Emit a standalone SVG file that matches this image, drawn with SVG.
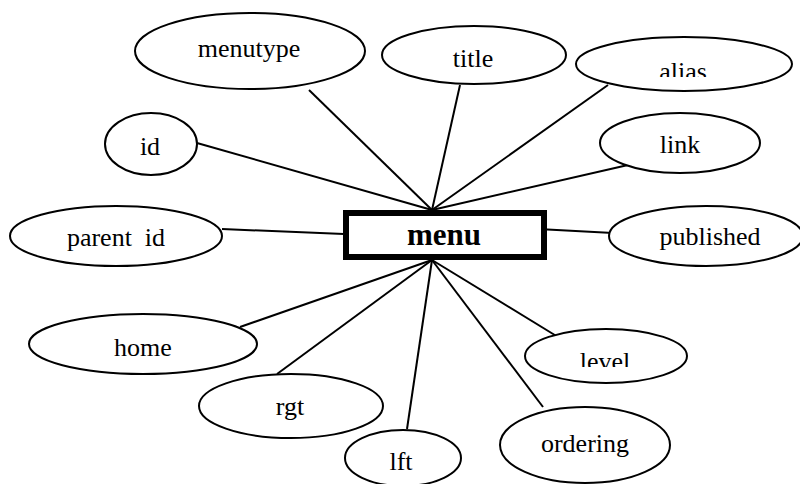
<svg xmlns="http://www.w3.org/2000/svg" width="800" height="484" viewBox="0 0 800 484">
  <style>
    .attr { fill: #fff; stroke: #000; stroke-width: 2; }
    .lbl { font-family: "Liberation Serif", "Times New Roman", serif; font-size: 26px; fill: #000; text-anchor: middle; }
    .ent { fill: #fff; stroke: #000; stroke-width: 6; }
    .entlbl { font-family: "Liberation Serif", "Times New Roman", serif; font-size: 31px; font-weight: bold; fill: #000; text-anchor: middle; }
    .conn line { stroke: #000; stroke-width: 2; }
  </style>
  <defs>
    <clipPath id="clip-alias"><rect x="600" y="40" width="170" height="37"/></clipPath>
    <clipPath id="clip-level"><rect x="540" y="330" width="130" height="37"/></clipPath>
  </defs>
  <rect width="800" height="484" fill="#fff"/>

  <!-- connectors -->
  <g id="connectors" class="conn">
    <line x1="309" y1="90" x2="432" y2="210"/>
    <line x1="197" y1="143" x2="432" y2="210"/>
    <line x1="222" y1="229" x2="344" y2="234"/>
    <line x1="460" y1="85" x2="432" y2="210"/>
    <line x1="608" y1="85" x2="432" y2="210"/>
    <line x1="628" y1="165" x2="432" y2="210"/>
    <line x1="538" y1="229" x2="613" y2="233"/>
    <line x1="240" y1="327" x2="432" y2="260"/>
    <line x1="277" y1="374" x2="432" y2="260"/>
    <line x1="407" y1="429" x2="432" y2="260"/>
    <line x1="543" y1="407" x2="432" y2="260"/>
    <line x1="558" y1="337" x2="432" y2="260"/>
  </g>

  <!-- entity -->
  <g id="menu">
    <rect class="ent" x="346" y="213" width="198" height="44"/>
    <text class="entlbl" x="444" y="245">menu</text>
  </g>

  <!-- attributes -->
  <g id="menutype">
    <ellipse class="attr" cx="250" cy="51" rx="115" ry="38"/>
    <text class="lbl" x="249" y="57">menutype</text>
  </g>
  <g id="title">
    <ellipse class="attr" cx="474" cy="55" rx="92" ry="29"/>
    <text class="lbl" x="473" y="67">title</text>
  </g>
  <g id="alias">
    <ellipse class="attr" cx="684" cy="64" rx="108" ry="27"/>
    <text class="lbl" x="683" y="80" clip-path="url(#clip-alias)">alias</text>
  </g>
  <g id="id">
    <ellipse class="attr" cx="151" cy="144" rx="46" ry="31"/>
    <text class="lbl" x="150" y="155">id</text>
  </g>
  <g id="link">
    <ellipse class="attr" cx="680" cy="143" rx="80" ry="30"/>
    <text class="lbl" x="680" y="153">link</text>
  </g>
  <g id="parent_id">
    <ellipse class="attr" cx="116" cy="236" rx="106" ry="30"/>
    <text class="lbl" x="116" y="246" xml:space="preserve">parent  id</text>
  </g>
  <g id="published">
    <ellipse class="attr" cx="706" cy="236" rx="97" ry="30"/>
    <text class="lbl" x="710" y="245">published</text>
  </g>
  <g id="home">
    <ellipse class="attr" cx="143" cy="344" rx="114" ry="30"/>
    <text class="lbl" x="143" y="356">home</text>
  </g>
  <g id="level">
    <ellipse class="attr" cx="606" cy="356" rx="81" ry="27"/>
    <text class="lbl" x="605" y="370" clip-path="url(#clip-level)">level</text>
  </g>
  <g id="rgt">
    <ellipse class="attr" cx="291" cy="406" rx="92" ry="32"/>
    <text class="lbl" x="290" y="415">rgt</text>
  </g>
  <g id="ordering">
    <ellipse class="attr" cx="585" cy="445" rx="85" ry="38"/>
    <text class="lbl" x="585" y="452">ordering</text>
  </g>
  <g id="lft">
    <ellipse class="attr" cx="403" cy="458" rx="58" ry="28"/>
    <text class="lbl" x="401" y="470">lft</text>
  </g>
</svg>
